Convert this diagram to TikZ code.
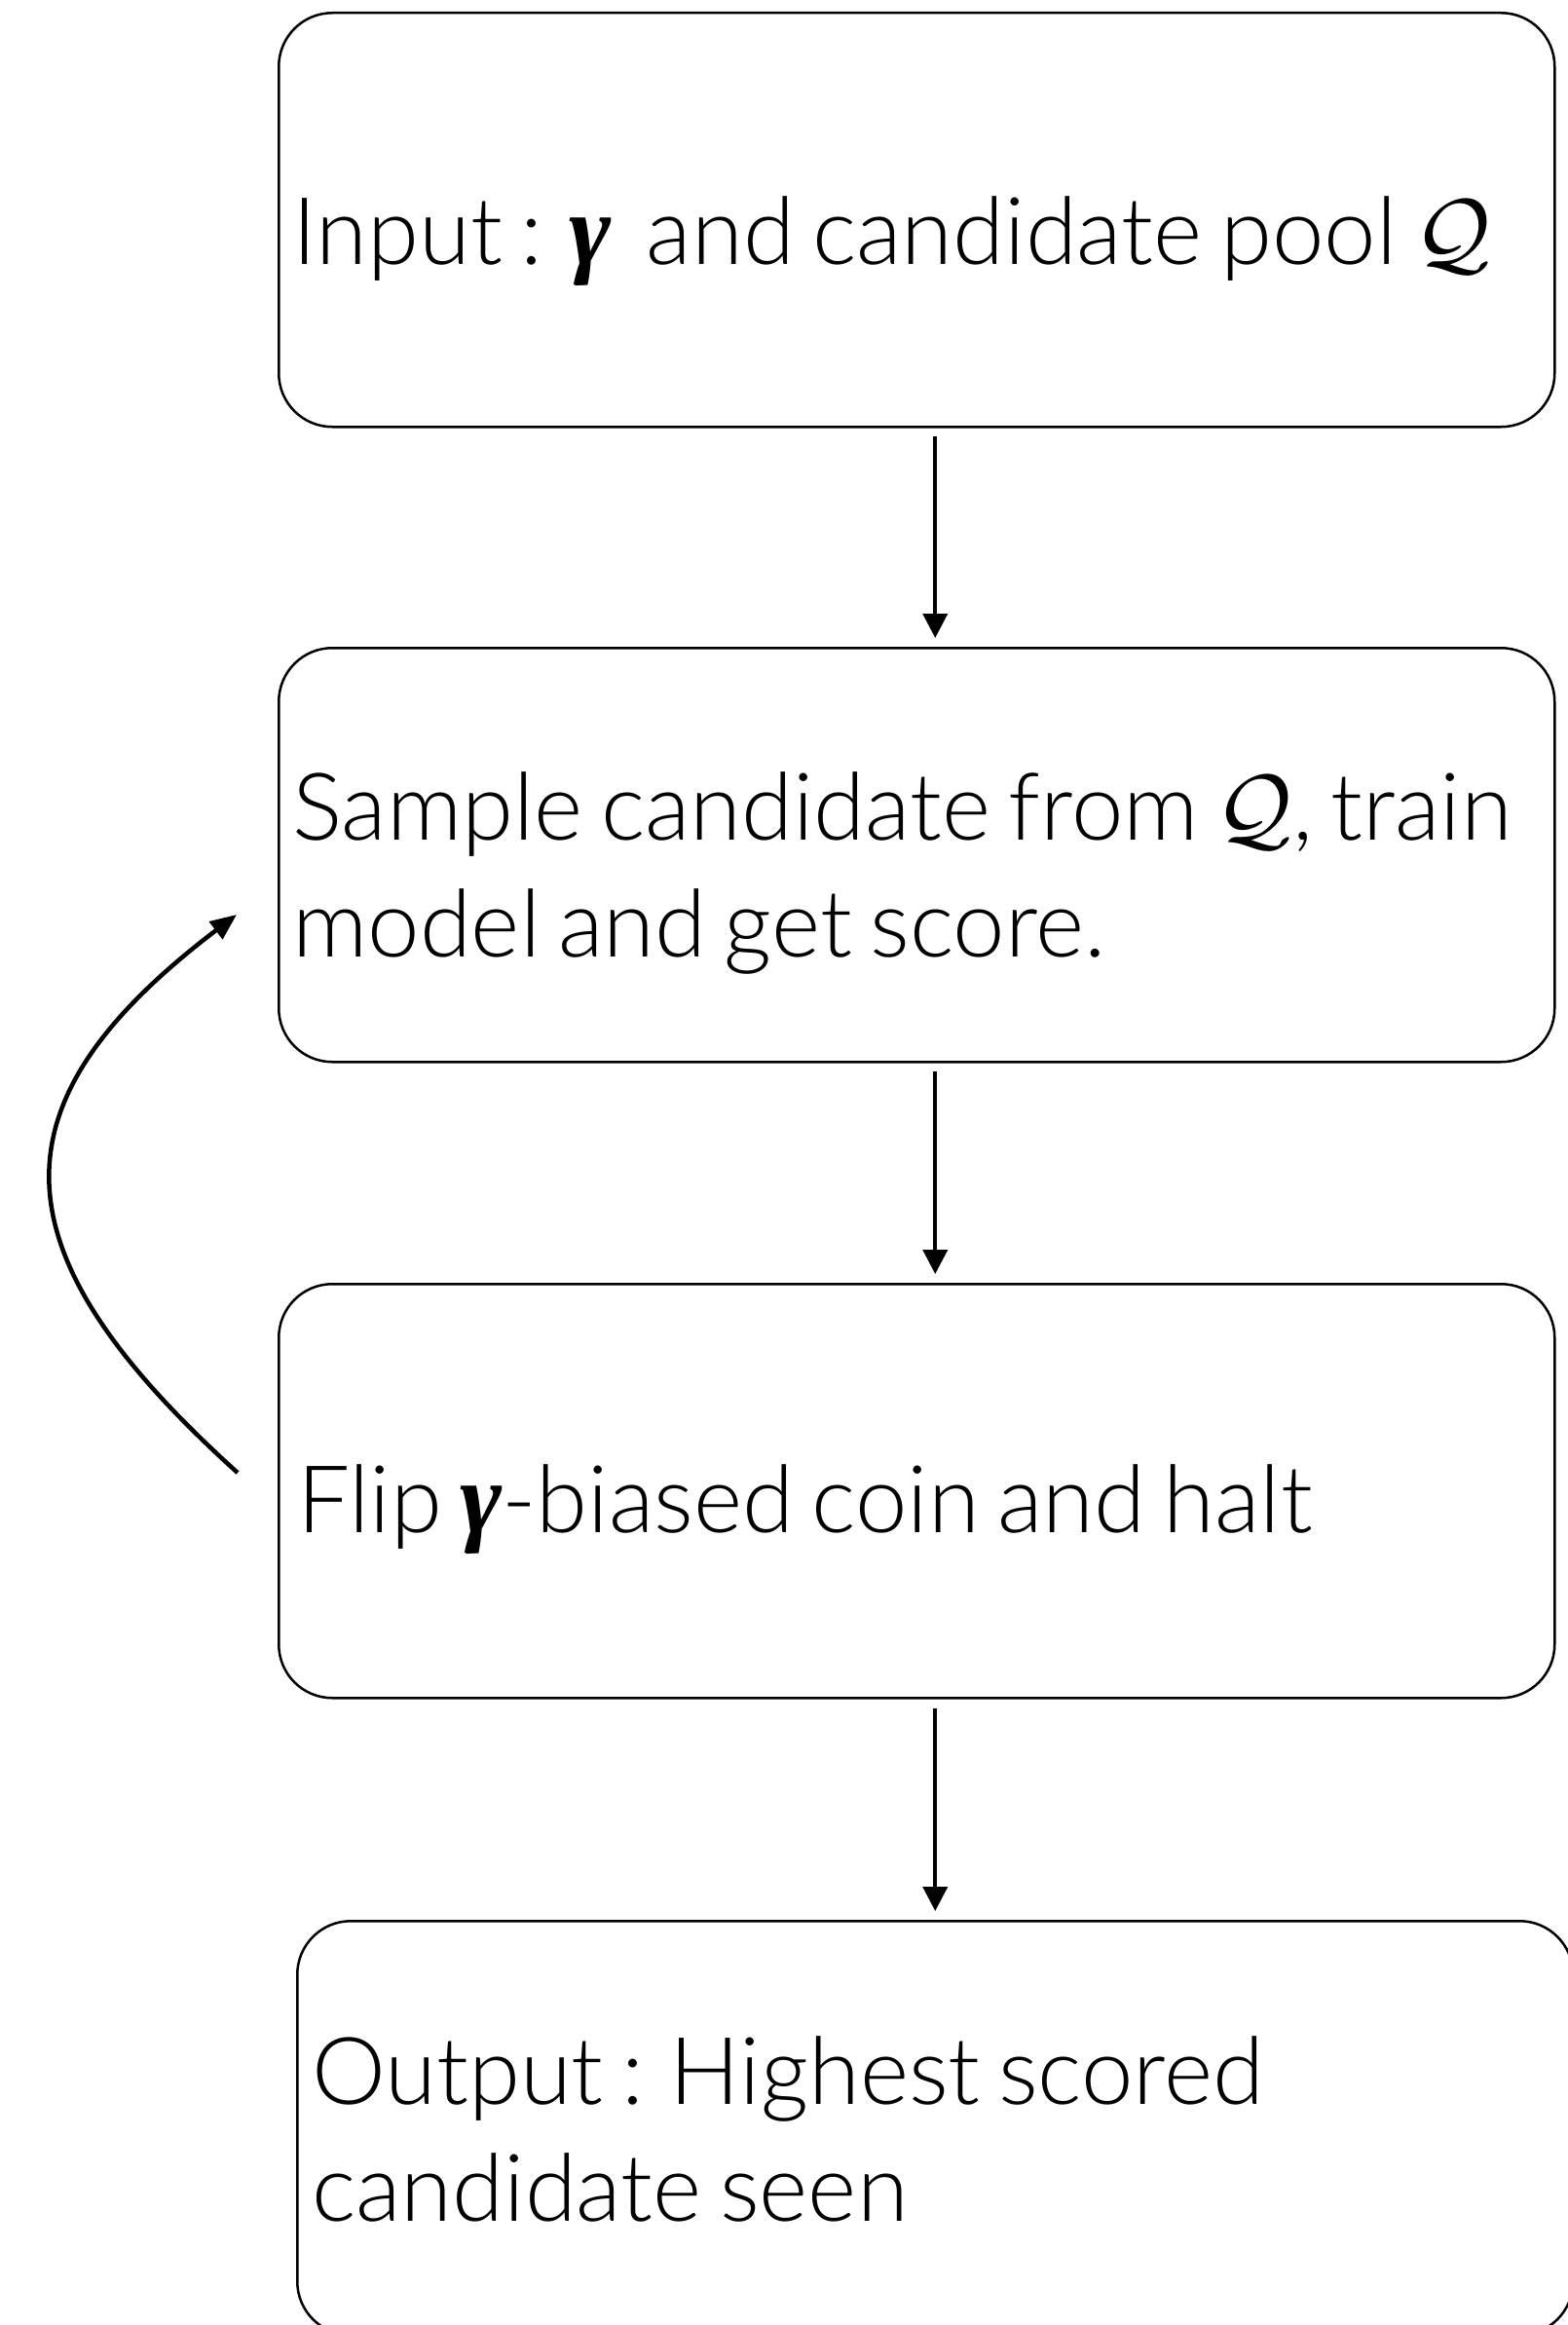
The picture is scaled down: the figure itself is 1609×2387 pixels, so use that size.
\documentclass[tikz,border=0pt]{standalone}
\usepackage{fontspec}
\setmainfont{Lato Light}[WordSpace=0.7]
\newfontfamily\gfont{Liberation Serif}
\DeclareFontShape{OML}{cmm}{m}{it}{<->cmmi10}{}
\DeclareFontShape{OMS}{cmsy}{m}{n}{<->cmsy10}{}
\newcommand{\bgam}{{\gfont\fontsize{104}{120}\selectfont\bfseries\itshape γ}}
\usetikzlibrary{arrows.meta}
\begin{document}
\begin{tikzpicture}[x=1pt,y=-1pt,
  box/.style={draw, line width=2.5pt, rounded corners=55pt, minimum width=1310pt, minimum height=425pt, inner sep=0pt, anchor=north west},
  txt/.style={anchor=base west, inner sep=0pt, align=left, font=\fontsize{96}{120}\selectfont},
  arr/.style={line width=4pt, -{Triangle[length=25pt,width=25pt]}},
  loop/.style={line width=4.5pt, -{Triangle[length=27pt,width=22pt]}}]
\useasboundingbox (0,0) rectangle (1609,2387);
\node[box] (b1) at (285,12) {};
\node[box] (b2) at (285,664) {};
\node[box] (b3) at (285,1317) {};
\node[box] (b4) at (304,1971) {};
\node[txt] (t1) at (300,271) {Input : \bgam\ \ and candidate pool $\mathcal{Q}$};
\node[txt] (t2) at (300,982) {Sample candidate from $\mathcal{Q}$, train\\model and get score.};
\node[txt] (t3) at (305,1573) {Flip \bgam-biased coin and halt};
\node[txt] (t4) at (320,2280) {Output : Highest scored\\candidate seen};
\draw[arr, shorten <=8pt, shorten >=9pt] ([xshift=19pt]b1.south) -- ([xshift=19pt]b2.north);
\draw[arr, shorten <=8pt, shorten >=9pt] ([xshift=19pt]b2.south) -- ([xshift=19pt]b3.north);
\draw[arr, shorten <=9pt, shorten >=9pt] ([xshift=19pt]b3.south) -- (b4.north);
\coordinate (c1) at (244,1512);
\coordinate (c2) at (243,939);
\draw[loop] (c1) .. controls (-10,1283) and (-11,1132) .. (c2);
\end{tikzpicture}
\end{document}
